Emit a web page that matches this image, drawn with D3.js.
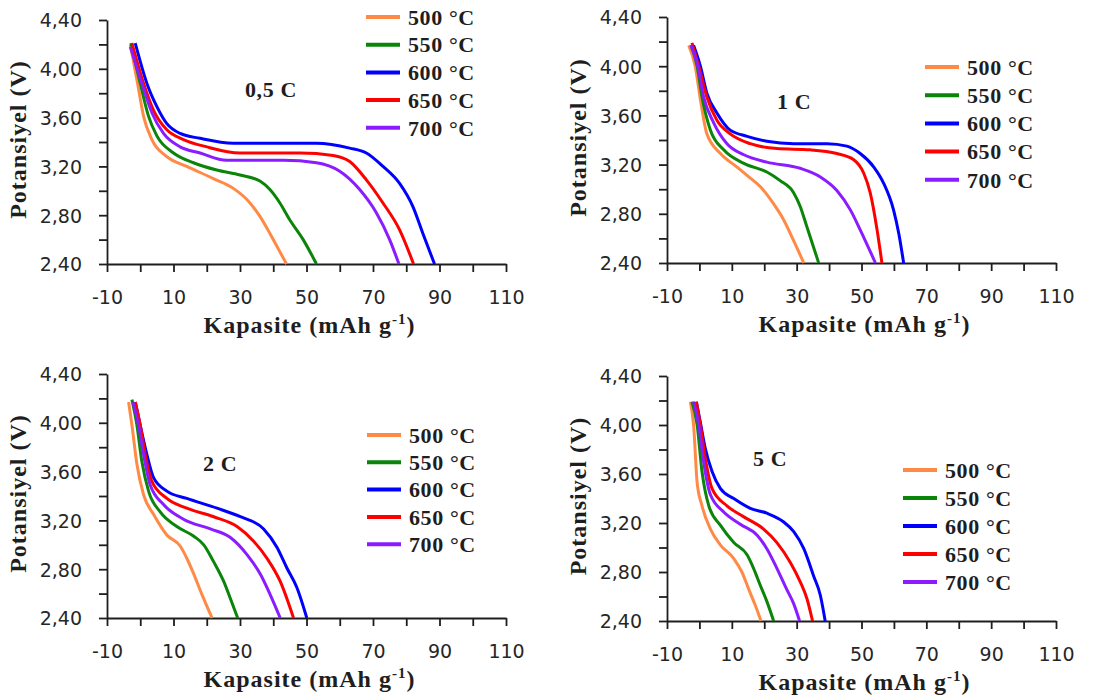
<!DOCTYPE html>
<html>
<head>
<meta charset="utf-8">
<script src="https://cdn.jsdelivr.net/npm/d3@7"></script>
<style>
  html, body { margin: 0; padding: 0; background: #fff; }
  svg { display: block; }
</style>
</head>
<body>
<svg id="chart" width="1096" height="700"></svg>
<script>
// Discharge curves of cathodes calcined at different temperatures, at four C-rates.
const temps = ["500 °C", "550 °C", "600 °C", "650 °C", "700 °C"];
const colors = ["#ff8a45", "#0a850a", "#0000ff", "#ff0000", "#8a1cff"];
const rates = ["0,5 C", "1 C", "2 C", "5 C"];

// axis ticks: every 10 mAh/g and 0.20 V, labels on every other tick
const xTicks = [-10, 0, 10, 20, 30, 40, 50, 60, 70, 80, 90, 100, 110];
const xTickLabels = ["-10", "10", "30", "50", "70", "90", "110"];
const yTicks = [2.4, 2.6, 2.8, 3.0, 3.2, 3.4, 3.6, 3.8, 4.0, 4.2, 4.4];
const yTickLabels = ["2,40", "2,80", "3,20", "3,60", "4,00", "4,40"];

// [capacity mAh/g, potential V] per temperature, order as in `temps`
const rate05 = [
  [[-3,4.20],[-0.8,3.88],[1.0,3.61],[3.5,3.42],[8,3.28],[14,3.20],[22,3.10],[28,3.02],[32,2.93],[36,2.79],[39,2.65],[41.6,2.52],[44,2.40]],
  [[-2.8,4.21],[0,3.88],[2.5,3.61],[5,3.45],[10,3.31],[16,3.23],[23,3.17],[30,3.13],[36,3.08],[39,3.01],[42,2.90],[45,2.76],[49,2.60],[53,2.40]],
  [[-1.5,4.21],[2,3.88],[5,3.69],[8,3.55],[12,3.47],[18,3.43],[28,3.39],[38,3.39],[53,3.39],[63,3.35],[68,3.31],[73,3.20],[78,3.06],[82,2.87],[85,2.65],[88.5,2.40]],
  [[-2.5,4.21],[1,3.88],[4,3.66],[8,3.50],[13,3.42],[20,3.36],[30,3.31],[48,3.31],[58,3.29],[63,3.24],[68,3.09],[73,2.90],[78,2.68],[82.2,2.40]],
  [[-3,4.18],[0.5,3.88],[3.5,3.64],[7,3.47],[12,3.36],[18,3.31],[26,3.25],[43,3.25],[53,3.23],[60,3.16],[66,3.01],[71,2.82],[75,2.60],[77.8,2.40]]
];
const rate1 = [
  [[-3.3,4.17],[-1.3,4.00],[0.3,3.73],[2.3,3.45],[6.5,3.29],[11.6,3.18],[15.7,3.09],[18.8,3.02],[22.9,2.88],[26,2.75],[29.1,2.58],[32.2,2.40]],
  [[-2.6,4.17],[-0.7,4.00],[0.8,3.75],[3.4,3.48],[7.5,3.32],[13.7,3.21],[20.8,3.14],[24.9,3.07],[29.1,2.97],[31.1,2.86],[33.2,2.69],[36.8,2.40]],
  [[-1.8,4.17],[0.3,4.00],[2.3,3.78],[5.4,3.62],[9.5,3.48],[14.7,3.43],[20.8,3.39],[29.1,3.37],[39.4,3.37],[45.5,3.35],[49.6,3.29],[53.8,3.18],[56.8,3.05],[59.9,2.83],[61.5,2.64],[63,2.40]],
  [[-2.3,4.19],[-0.2,4.00],[2.3,3.75],[5.4,3.56],[9.5,3.45],[15.7,3.37],[23.9,3.33],[34.2,3.32],[42.4,3.29],[47.6,3.24],[50.7,3.13],[52.7,2.97],[54.8,2.67],[56.3,2.40]],
  [[-2.6,4.17],[-0.5,4.00],[1.3,3.75],[4.4,3.54],[8.5,3.37],[13.7,3.28],[20.8,3.22],[31.1,3.17],[37.3,3.10],[42.4,2.99],[46.6,2.83],[49.6,2.67],[54.3,2.40]]
];
const rate2 = [
  [[-3.5,4.17],[-2.5,3.98],[-1,3.66],[1,3.41],[4,3.25],[8,3.08],[12,2.99],[14,2.89],[16.1,2.76],[18.6,2.59],[21.6,2.40]],
  [[-2.5,4.19],[-1,3.98],[0.5,3.68],[2.5,3.44],[6,3.27],[11,3.15],[16.1,3.07],[19.1,3.00],[22.1,2.86],[25.1,2.70],[27.1,2.56],[29.3,2.40]],
  [[-1.5,4.17],[0,3.98],[2,3.74],[4,3.55],[8,3.44],[14,3.38],[23.1,3.30],[30.1,3.23],[37.1,3.13],[41.1,2.98],[44.1,2.81],[47.1,2.65],[50.1,2.40]],
  [[-1.5,4.17],[0,3.98],[1.5,3.74],[3.5,3.52],[8,3.38],[14,3.30],[22.1,3.23],[29.1,3.15],[34.1,3.03],[38.1,2.89],[42.1,2.70],[46.1,2.40]],
  [[-2.2,4.17],[-0.5,3.98],[1,3.74],[3,3.49],[7,3.33],[13,3.21],[21.1,3.13],[27.1,3.06],[32.1,2.92],[36.1,2.76],[39.1,2.59],[42.1,2.40]]
];
const rate5 = [
  [[-2.8,4.19],[-1.8,4.00],[-0.7,3.53],[0.8,3.34],[3.4,3.15],[6.5,3.02],[10.6,2.91],[13.1,2.80],[15.2,2.66],[17.2,2.53],[19,2.40]],
  [[-2.3,4.19],[-0.7,4.00],[0.8,3.62],[2.9,3.34],[6.5,3.18],[10.6,3.04],[14.7,2.94],[16.7,2.83],[18.8,2.69],[20.8,2.56],[22.9,2.40]],
  [[-0.95,4.19],[0.3,4.02],[1.8,3.81],[3.9,3.62],[6.5,3.48],[10.6,3.40],[15.7,3.32],[20.8,3.28],[25.9,3.21],[29.1,3.13],[32.2,2.99],[35.2,2.77],[37.3,2.61],[38.8,2.40]],
  [[-0.95,4.19],[0.3,4.00],[1.8,3.73],[3.9,3.48],[8.5,3.34],[13.7,3.25],[19.8,3.15],[23.9,3.04],[28,2.88],[31.1,2.72],[33.2,2.58],[34.9,2.40]],
  [[-1.8,4.19],[-0.2,4.00],[1.3,3.70],[3.4,3.43],[7.5,3.29],[12.6,3.19],[17.8,3.10],[20.8,2.99],[23.9,2.83],[26.9,2.66],[29.1,2.54],[30.9,2.40]]
];
const rateSeries = [rate05, rate1, rate2, rate5];

// panel frames (plot area in px), legend and rate-label placement
const panels = [
  { x0: 107, x1: 506, y0: 20,  y1: 264, legX: 366, legY: 17,  legDy: 27.7, rateX: 245, rateY: 89 },
  { x0: 667, x1: 1056, y0: 17, y1: 263, legX: 925, legY: 67,  legDy: 28.2, rateX: 777, rateY: 101 },
  { x0: 107, x1: 506, y0: 374, y1: 618, legX: 367, legY: 435, legDy: 27.3, rateX: 203, rateY: 463 },
  { x0: 667, x1: 1056, y0: 376, y1: 621, legX: 903, legY: 470, legDy: 28,  rateX: 753, rateY: 458 }
];

const svg = d3.select("#chart");
const serif = "'Liberation Serif', 'Times New Roman', serif";
const sans = "'DejaVu Sans', Verdana, sans-serif";
const ink = "#1e1e1e";

panels.forEach((p, i) => {
  const x = d3.scaleLinear().domain([-10, 110]).range([p.x0, p.x1]);
  const y = d3.scaleLinear().domain([2.4, 4.4]).range([p.y1, p.y0]);
  const g = svg.append("g");

  // x axis
  const xa = g.append("g")
    .attr("transform", `translate(0,${p.y1})`)
    .call(d3.axisBottom(x).tickValues(xTicks).tickSize(8).tickSizeOuter(0)
      .tickFormat(d => xTickLabels.includes(String(d)) ? String(d) : ""));
  // y axis
  const ya = g.append("g")
    .attr("transform", `translate(${p.x0},0)`)
    .call(d3.axisLeft(y).tickValues(yTicks).tickSize(8).tickSizeOuter(0)
      .tickFormat(d => {
        const s = d3.format(".2f")(d).replace(".", ",");
        return yTickLabels.includes(s) ? s : "";
      }));

  [xa, ya].forEach(a => {
    a.select(".domain").attr("stroke", ink).attr("stroke-width", 1.8);
    a.selectAll(".tick line").attr("stroke", ink).attr("stroke-width", 1.8);
    a.selectAll(".tick text")
      .attr("font-family", sans).attr("font-size", 19).attr("fill", "#262626");
  });
  xa.selectAll(".tick text").attr("y", 33).attr("dy", "0.36em");
  ya.selectAll(".tick text").attr("x", -25).attr("dy", "0.36em");

  // curves
  const line = d3.line()
    .x(d => x(d[0])).y(d => y(d[1]))
    .curve(d3.curveMonotoneX);
  rateSeries[i].forEach((s, k) => {
    g.append("path")
      .attr("d", line(s))
      .attr("fill", "none")
      .attr("stroke", colors[k])
      .attr("stroke-width", 3)
      .attr("stroke-linejoin", "round");
  });

  // axis titles
  const xt = g.append("text")
    .attr("x", (p.x0 + p.x1) / 2 + 3)
    .attr("y", p.y1 + 69)
    .attr("text-anchor", "middle")
    .attr("font-family", serif).attr("font-weight", "bold")
    .attr("font-size", 24).attr("letter-spacing", 1).attr("fill", ink);
  xt.append("tspan").text("Kapasite (mAh g");
  xt.append("tspan").text("-1").attr("font-size", 15).attr("dy", -9);
  xt.append("tspan").text(")").attr("dy", 9);

  g.append("text")
    .attr("transform", `translate(${p.x0 - 81},${(p.y0 + p.y1) / 2 - 2.5}) rotate(-90)`)
    .attr("text-anchor", "middle")
    .attr("font-family", serif).attr("font-weight", "bold")
    .attr("font-size", 24).attr("letter-spacing", 1).attr("fill", ink)
    .text("Potansiyel (V)");

  // rate label
  g.append("text")
    .attr("x", p.rateX).attr("y", p.rateY).attr("dy", "0.35em")
    .attr("font-family", serif).attr("font-weight", "bold")
    .attr("font-size", 22).attr("letter-spacing", 0.6).attr("fill", ink)
    .text(rates[i]);

  // legend
  temps.forEach((t, k) => {
    const ly = p.legY + k * p.legDy;
    g.append("line")
      .attr("x1", p.legX).attr("x2", p.legX + 34)
      .attr("y1", ly).attr("y2", ly)
      .attr("stroke", colors[k]).attr("stroke-width", 4);
    g.append("text")
      .attr("x", p.legX + 42).attr("y", ly).attr("dy", "0.35em")
      .attr("font-family", serif).attr("font-weight", "bold")
      .attr("font-size", 22).attr("letter-spacing", 0.6).attr("fill", ink)
      .text(t);
  });
});
</script>
</body>
</html>
